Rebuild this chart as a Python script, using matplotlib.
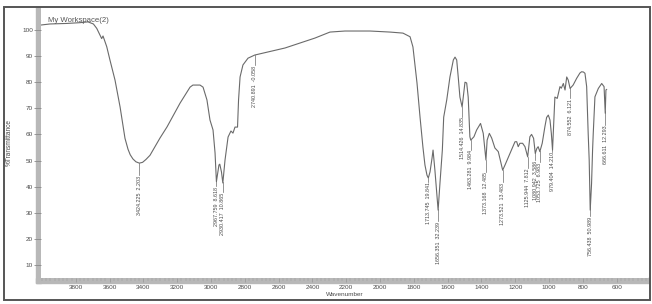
import matplotlib
matplotlib.use('Agg')
import matplotlib.pyplot as plt
from matplotlib.patches import Rectangle
from matplotlib.ticker import FixedLocator, MultipleLocator
import numpy as np

# ---------------- data ----------------
wavenumber = [4006, 3953, 3854, 3775, 3728, 3696, 3676, 3657, 3647, 3639,
              3617, 3598, 3568, 3538, 3509, 3491, 3478, 3462, 3444, 3424,
              3405, 3385, 3361, 3343, 3302, 3260, 3183, 3124, 3107, 3065,
              3047, 3024, 3006, 2988, 2976, 2968, 2953, 2948, 2938, 2930,
              2917, 2899, 2882, 2870, 2858, 2843, 2837, 2828, 2811, 2781,
              2741, 2669, 2562, 2473, 2385, 2296, 2207, 2059, 1941, 1864,
              1822, 1805, 1781, 1763, 1746, 1734, 1722, 1714, 1704, 1692,
              1686, 1675, 1656, 1645, 1631, 1623, 1605, 1586, 1566, 1556,
              1546, 1537, 1527, 1514, 1506, 1497, 1487, 1478, 1468, 1463,
              1444, 1428, 1405, 1389, 1373, 1366, 1353, 1339, 1320, 1300,
              1274, 1260, 1231, 1201, 1191, 1182, 1172, 1156, 1142, 1126,
              1113, 1103, 1091, 1081, 1072, 1064, 1054, 1040, 1024, 1014,
              1004, 994, 986, 979, 971, 965, 951, 935, 927, 915,
              905, 895, 886, 875, 857, 836, 817, 807, 796, 787,
              777, 768, 762, 756, 748, 742, 738, 728, 708, 688,
              674, 667, 663, 659]
transmittance = [101.9, 102.3, 102.5, 102.8, 103.1, 102.3, 100.6, 98.0, 96.7, 97.7,
                 93.6, 88.5, 80.8, 70.5, 58.5, 54.3, 52.2, 50.6, 49.5, 49.0,
                 49.3, 50.4, 52.0, 54.0, 58.6, 62.9, 72.0, 78.1, 78.9, 78.9,
                 78.1, 73.2, 65.5, 61.7, 52.9, 41.9, 48.3, 48.6, 45.6, 41.4,
                 50.2, 59.0, 61.3, 60.5, 62.8, 62.8, 73.2, 82.0, 86.6, 89.2,
                 90.4, 91.5, 93.1, 95.0, 96.9, 99.2, 99.6, 99.6, 99.2, 98.8,
                 97.4, 93.5, 79.7, 66.6, 55.2, 48.3, 44.4, 43.3, 45.6, 50.9,
                 54.0, 46.3, 31.0, 41.4, 54.0, 66.6, 73.2, 82.0, 88.5, 89.6,
                 88.5, 82.0, 74.3, 70.5, 75.1, 80.0, 79.7, 74.3, 59.1, 57.8,
                 59.1, 61.7, 64.2, 60.4, 50.2, 57.8, 60.4, 58.6, 54.8, 53.4,
                 46.3, 48.3, 52.7, 57.2, 57.2, 55.3, 56.6, 56.6, 55.3, 51.4,
                 59.1, 60.0, 58.5, 52.7, 54.6, 55.3, 53.4, 56.6, 63.0, 66.5,
                 67.4, 65.5, 60.4, 54.0, 65.5, 74.3, 73.8, 78.3, 77.7, 79.5,
                 77.0, 82.0, 80.8, 77.6, 78.9, 81.5, 83.5, 84.0, 83.9, 83.4,
                 78.3, 60.4, 50.2, 31.0, 41.2, 54.0, 60.4, 74.4, 77.6, 79.5,
                 78.3, 68.1, 77.0, 77.2]

peak_labels = ["3424.225  2.203", "2967.759  8.618", "2930.417  10.865",
               "2740.891  -0.058", "1713.745  19.841", "1656.351  32.239",
               "1514.426  14.835", "1463.281  9.984", "1373.168  12.485",
               "1273.521  13.483", "1125.944  7.812", "1080.942  3.586",
               "1053.725  6.983", "979.404  14.210", "874.552  6.121",
               "756.438  50.989", "666.611  12.293"]

x_ticks = [3800, 3600, 3400, 3200, 3000, 2800, 2600, 2400, 2200, 2000,
           1800, 1600, 1400, 1200, 1000, 800, 600]
y_ticks = [10, 20, 30, 40, 50, 60, 70, 80, 90, 100]

# ---------------- style ----------------
label_drop = [4.6, 1.9, 3.8, 3.8, 1.5, 4.6, 3.8, 3.8, 4.6, 4.6, 4.2, 2.7, 4.2,
              1.0, 3.8, 3.8, 5.4]

assert len(wavenumber) == len(transmittance)

plt.rcParams['font.family'] = ['Liberation Sans', 'DejaVu Sans']
W, H = 652, 304
fig = plt.figure(figsize=(W / 100, H / 100), dpi=100)
ax = fig.add_axes([41 / W, 1 - 278 / H, (648 - 41) / W, (278 - 7) / H])

curve_color = '#6a6a6a'
text_color = '#4a4a4a'
ax.plot(wavenumber, transmittance, color=curve_color, lw=0.8)
ax.set_xlim(4006, 414)
ax.set_ylim(5.0, 108.8)

for s in ax.spines.values():
    s.set_visible(False)

# gray axis bars
bar_color = '#b8b8b8'
fig.add_artist(Rectangle((36 / W, 1 - 283 / H), 5 / W, (283 - 7) / H,
                         transform=fig.transFigure, color=bar_color, zorder=-1))
fig.add_artist(Rectangle((36 / W, 1 - 283 / H), (649 - 36) / W, 5 / H,
                         transform=fig.transFigure, color=bar_color, zorder=-1))
# outer frame
fig.add_artist(Rectangle((3.5 / W, 1 - 300 / H), (650 - 3.5) / W, (300 - 6.5) / H,
                         transform=fig.transFigure, fill=False, ec='#555555',
                         lw=1.4, zorder=5))

ax.yaxis.set_major_locator(FixedLocator(y_ticks))
ax.tick_params(axis='y', which='major', length=5, width=0.6, color='#8a8a8a',
               pad=0.6, labelsize=4.6, labelcolor=text_color)
ax.xaxis.set_major_locator(FixedLocator(x_ticks))
ax.xaxis.set_minor_locator(MultipleLocator(25))
ax.tick_params(axis='x', which='major', length=3.2, width=0.4, color='#8e8e8e',
               pad=1.6, labelsize=4.6, labelcolor=text_color)
ax.tick_params(axis='x', which='minor', length=2.2, width=0.35, color='#9a9a9a')

# peak labels
wn_rev = np.array(wavenumber[::-1], dtype=float)
tr_rev = np.array(transmittance[::-1], dtype=float)
for lab, drop in zip(peak_labels, label_drop):
    xp = float(lab.split()[0])
    yc = float(np.interp(xp, wn_rev, tr_rev))
    ax.plot([xp, xp], [yc, yc - drop], color=curve_color, lw=0.5)
    ax.text(xp, yc - drop - 0.2, lab, rotation=90, ha='center', va='top',
            fontsize=3.9, color=text_color)

fig.text(48 / W, 1 - 20 / H, 'My Workspace(2)', ha='left', va='center',
         fontsize=5.6, color='#555555')
fig.text(9.5 / W, 1 - 142 / H, '%Transmittance', rotation=90, ha='center',
         va='center', fontsize=4.7, color=text_color)
fig.text(345 / W, 1 - 295 / H, 'Wavenumber', ha='center', va='center',
         fontsize=4.6, color=text_color)

fig.savefig('out.png', dpi=100)
